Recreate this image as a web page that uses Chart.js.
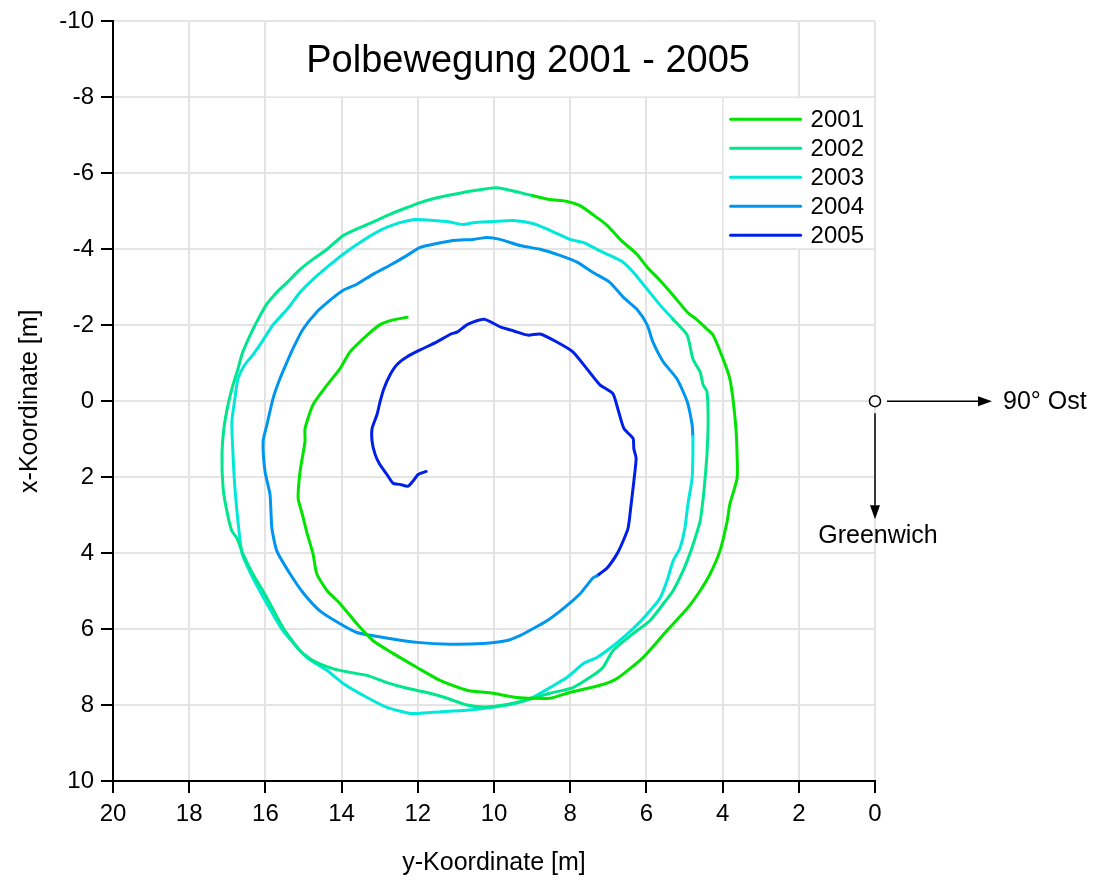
<!DOCTYPE html>
<html>
<head>
<meta charset="utf-8">
<script src="https://cdn.jsdelivr.net/npm/chart.js@4.4.0/dist/chart.umd.min.js"></script>
<style>
  html, body { margin: 0; padding: 0; background: #fff; }
  #wrap { width: 1094px; height: 880px; }
</style>
</head>
<body>
<div id="wrap"><canvas id="polChart"></canvas></div>
<script>
// Polbewegung, Punkte als [y-Koordinate, x-Koordinate] in Metern
const years = ['2001', '2002', '2003', '2004', '2005'];
const colors = ['#00e400', '#00e68c', '#00e8d8', '#0096f0', '#0020e8'];

const pol2001 = [[12.28,-2.21],[12.65,-2.14],[13.00,-2.01],[13.33,-1.74],[13.78,-1.30],[14.04,-0.86],[14.38,-0.43],[14.75,0.09],[14.96,0.72],[14.96,1.06],[15.09,1.85],[15.14,2.56],[15.03,2.98],[14.90,3.50],[14.75,4.02],[14.65,4.55],[14.38,4.99],[14.04,5.33],[13.60,5.86],[13.18,6.30],[12.65,6.64],[12.02,7.01],[11.42,7.35],[10.71,7.61],[10.03,7.69],[9.40,7.80],[8.53,7.82],[8.01,7.67],[7.22,7.48],[6.77,7.30],[6.09,6.75],[5.46,6.04],[4.93,5.46],[4.59,4.99],[4.33,4.55],[4.07,3.94],[3.88,3.16],[3.81,2.71],[3.62,2.03],[3.62,1.40],[3.65,0.72],[3.73,-0.07],[3.81,-0.59],[3.99,-1.12],[4.25,-1.74],[4.41,-1.90],[4.67,-2.14],[4.93,-2.35],[5.30,-2.79],[5.64,-3.18],[5.98,-3.53],[6.25,-3.87],[6.69,-4.26],[7.03,-4.63],[7.40,-4.91],[7.74,-5.15],[8.08,-5.26],[8.53,-5.31],[8.98,-5.41]];

const pol2002 = [[8.98,-5.41],[9.92,-5.62],[10.55,-5.54],[11.08,-5.44],[11.60,-5.33],[11.94,-5.23],[12.28,-5.10],[12.73,-4.92],[13.33,-4.65],[13.96,-4.36],[14.38,-4.00],[14.75,-3.74],[15.09,-3.47],[15.43,-3.13],[15.70,-2.87],[15.96,-2.56],[16.19,-2.16],[16.40,-1.74],[16.61,-1.25],[16.72,-0.85],[16.85,-0.43],[16.98,0.09],[17.09,0.72],[17.14,1.40],[17.11,2.29],[17.01,2.90],[16.88,3.42],[16.75,3.60],[16.59,4.02],[16.33,4.55],[15.96,5.18],[15.54,5.96],[15.09,6.57],[14.75,6.83],[14.23,7.04],[13.78,7.14],[13.33,7.22],[12.81,7.41],[12.28,7.56],[11.76,7.67],[11.23,7.82],[10.71,8.00],[10.29,8.05],[9.84,8.01],[9.40,7.93],[8.98,7.82],[8.53,7.69],[7.93,7.54],[7.48,7.27],[7.14,7.01],[6.88,6.57],[6.35,6.12],[5.91,5.78],[5.56,5.34],[5.30,4.99],[5.04,4.47],[4.86,4.02],[4.72,3.60],[4.59,3.16],[4.51,2.56],[4.46,2.03],[4.41,1.40],[4.38,0.54],[4.41,-0.25],[4.51,-0.43],[4.59,-0.77],[4.78,-1.11],[4.93,-1.74],[5.30,-2.16]];

const pol2003 = [[5.30,-2.16],[5.64,-2.53],[5.98,-2.95],[6.35,-3.40],[6.61,-3.66],[6.96,-3.84],[7.30,-4.00],[7.66,-4.18],[8.01,-4.26],[8.53,-4.50],[8.98,-4.68],[9.50,-4.76],[10.03,-4.73],[10.55,-4.70],[10.81,-4.65],[11.23,-4.73],[11.86,-4.78],[12.13,-4.78],[12.47,-4.70],[12.99,-4.50],[13.52,-4.18],[13.96,-3.87],[14.38,-3.53],[14.75,-3.21],[15.09,-2.87],[15.43,-2.42],[15.80,-2.01],[16.06,-1.61],[16.33,-1.22],[16.54,-0.96],[16.72,-0.59],[16.80,-0.07],[16.88,0.54],[16.85,1.40],[16.80,2.29],[16.72,3.16],[16.61,4.02],[16.33,4.65],[15.96,5.33],[15.54,6.04],[14.91,6.75],[14.38,7.09],[13.96,7.43],[13.33,7.80],[12.81,8.06],[12.20,8.22],[11.60,8.19],[10.71,8.14],[10.03,8.06],[9.40,7.95],[8.98,7.80],[8.53,7.54],[8.08,7.27],[7.66,6.91],[7.30,6.75],[6.77,6.36],[6.35,5.99],[5.98,5.60],[5.64,5.18],[5.46,4.73],[5.30,4.21],[5.12,3.87],[4.99,3.34],[4.91,2.71],[4.80,2.03],[4.78,1.40],[4.78,0.93]];

const pol2004 = [[4.78,0.93],[4.80,0.62],[4.93,0.01],[5.20,-0.59],[5.56,-1.04],[5.83,-1.56],[5.98,-2.01],[6.25,-2.42],[6.61,-2.74],[6.96,-3.13],[7.40,-3.39],[7.82,-3.66],[8.27,-3.84],[8.79,-4.00],[9.32,-4.10],[9.84,-4.26],[10.18,-4.31],[10.55,-4.26],[11.08,-4.23],[11.60,-4.13],[11.94,-4.05],[12.28,-3.84],[12.73,-3.58],[13.18,-3.34],[13.60,-3.08],[13.96,-2.92],[14.30,-2.66],[14.65,-2.35],[15.01,-1.90],[15.28,-1.38],[15.43,-1.04],[15.62,-0.59],[15.80,-0.07],[15.96,0.62],[16.06,1.06],[16.01,1.85],[15.88,2.45],[15.83,3.34],[15.70,3.94],[15.35,4.55],[14.99,5.07],[14.57,5.52],[14.04,5.86],[13.60,6.09],[12.91,6.22],[12.02,6.35],[11.15,6.40],[10.29,6.38],[9.66,6.30],[9.32,6.17],[8.98,5.99],[8.61,5.78],[8.16,5.44],[7.74,5.07],[7.40,4.65],[7.30,4.60]];

const pol2005 = [[7.30,4.60],[7.03,4.39],[6.77,4.02],[6.61,3.68],[6.48,3.34],[6.40,2.71],[6.33,2.11],[6.27,1.51],[6.33,1.25],[6.35,0.98],[6.59,0.72],[6.75,0.20],[6.88,-0.20],[7.22,-0.43],[7.56,-0.85],[7.93,-1.30],[8.35,-1.56],[8.79,-1.77],[9.11,-1.74],[9.48,-1.85],[9.82,-1.95],[10.26,-2.16],[10.68,-2.03],[10.97,-1.82],[11.13,-1.77],[11.50,-1.56],[11.94,-1.35],[12.28,-1.17],[12.55,-0.96],[12.73,-0.69],[12.89,-0.33],[12.99,0.01],[13.07,0.35],[13.20,0.72],[13.20,1.06],[13.12,1.40],[13.00,1.66],[12.81,1.93],[12.65,2.16],[12.47,2.19],[12.26,2.24],[12.13,2.11],[11.99,1.93],[11.78,1.85]];

const series = [pol2001, pol2002, pol2003, pol2004, pol2005];
const yTicks = [-10, -8, -6, -4, -2, 0, 2, 4, 6, 8, 10];
const xTicks = [0, 2, 4, 6, 8, 10, 12, 14, 16, 18, 20];

const FONT = "'Liberation Sans', Arial, sans-serif";

// Titel, Legende und Achsenkreuz werden im Plotbereich gezeichnet
const boxesPlugin = {
  id: 'boxes',
  beforeDatasetsDraw(chart) {
    const {ctx, scales: {x, y}} = chart;
    ctx.save();
    ctx.fillStyle = '#fff';
    // Titelbox
    const tl = x.getPixelForValue(16) + 1, tr = x.getPixelForValue(2) - 1;
    const tt = y.getPixelForValue(-10) + 1, tb = y.getPixelForValue(-8) - 1;
    ctx.fillRect(tl, tt, tr - tl, tb - tt);
    ctx.fillStyle = '#000';
    ctx.font = '38px ' + FONT;
    ctx.textAlign = 'center';
    ctx.textBaseline = 'middle';
    ctx.fillText('Polbewegung 2001 - 2005', (tl + tr) / 2 - 4, (tt + tb) / 2 + 2);
    // Legendenbox
    const ll = x.getPixelForValue(4) + 1, lr = x.getPixelForValue(0) - 1;
    const lt = y.getPixelForValue(-8) + 1, lb = y.getPixelForValue(-4) - 1;
    ctx.fillStyle = '#fff';
    ctx.fillRect(ll, lt, lr - ll, lb - lt);
    ctx.font = '24px ' + FONT;
    ctx.textAlign = 'left';
    years.forEach((yr, i) => {
      const yy = lt + 21 + i * 29;
      ctx.strokeStyle = colors[i];
      ctx.lineWidth = 3;
      ctx.lineCap = 'round';
      ctx.beginPath();
      ctx.moveTo(ll + 7, yy);
      ctx.lineTo(ll + 77, yy);
      ctx.stroke();
      ctx.fillStyle = '#000';
      ctx.fillText(yr, ll + 87, yy + 1);
    });
    ctx.restore();
  },
  afterDraw(chart) {
    const {ctx, scales: {x, y}} = chart;
    const cx = x.getPixelForValue(0), cy = y.getPixelForValue(0);
    ctx.save();
    ctx.strokeStyle = '#000';
    ctx.fillStyle = '#000';
    ctx.lineWidth = 1.5;
    // nach rechts: 90° Ost
    ctx.beginPath();
    ctx.moveTo(cx + 12, cy);
    ctx.lineTo(cx + 104, cy);
    ctx.stroke();
    ctx.beginPath();
    ctx.moveTo(cx + 117, cy);
    ctx.lineTo(cx + 103, cy - 5);
    ctx.lineTo(cx + 103, cy + 5);
    ctx.closePath();
    ctx.fill();
    // nach unten: Greenwich
    ctx.beginPath();
    ctx.moveTo(cx, cy + 12);
    ctx.lineTo(cx, cy + 104);
    ctx.stroke();
    ctx.beginPath();
    ctx.moveTo(cx, cy + 118);
    ctx.lineTo(cx - 5, cy + 104);
    ctx.lineTo(cx + 5, cy + 104);
    ctx.closePath();
    ctx.fill();
    // Kreis im Ursprung
    ctx.beginPath();
    ctx.arc(cx, cy, 5.5, 0, Math.PI * 2);
    ctx.fillStyle = '#fff';
    ctx.fill();
    ctx.stroke();
    ctx.fillStyle = '#000';
    ctx.font = '25px ' + FONT;
    ctx.textBaseline = 'middle';
    ctx.textAlign = 'left';
    ctx.fillText('90° Ost', cx + 128, cy + 1);
    ctx.textAlign = 'center';
    ctx.fillText('Greenwich', cx + 3, cy + 135);
    ctx.restore();
  }
};

const ctx = document.getElementById('polChart');

new Chart(ctx, {
  type: 'scatter',
  data: {
    datasets: series.map((pts, i) => ({
      label: years[i],
      data: pts.map(p => ({x: p[0], y: p[1]})),
      showLine: true,
      borderColor: colors[i],
      backgroundColor: colors[i],
      borderWidth: 3,
      pointRadius: 0,
      tension: 0.2,
      borderCapStyle: 'round',
      borderJoinStyle: 'round'
    }))
  },
  options: {
    responsive: true,
    maintainAspectRatio: false,
    animation: false,
    layout: { padding: { top: 18, right: 219, bottom: 0, left: 0 } },
    plugins: {
      legend: { display: false },
      title: { display: false },
      tooltip: { enabled: false }
    },
    scales: {
      x: {
        type: 'linear',
        reverse: true,
        min: 0,
        max: 20,
        afterBuildTicks: s => { s.ticks = xTicks.map(v => ({value: v})); },
        afterFit: s => { s.height = 99; },
        grid: { color: '#e4e4e4', lineWidth: 2, tickColor: '#000', tickLength: 12, tickWidth: 2 },
        border: { color: '#000', width: 2 },
        ticks: { color: '#000', font: { family: FONT, size: 24 }, padding: 7, maxRotation: 0 },
        title: { display: true, text: 'y-Koordinate [m]', color: '#000', font: { family: FONT, size: 25 }, padding: { top: 2, bottom: 2 } }
      },
      y: {
        type: 'linear',
        reverse: true,
        min: -10,
        max: 10,
        afterBuildTicks: s => { s.ticks = yTicks.map(v => ({value: v})); },
        afterFit: s => { s.width = 113; },
        grid: { color: '#e4e4e4', lineWidth: 2, tickColor: '#000', tickLength: 12, tickWidth: 2 },
        border: { color: '#000', width: 2 },
        ticks: { color: '#000', font: { family: FONT, size: 24 }, padding: 7 },
        title: { display: true, text: 'x-Koordinate [m]', color: '#000', font: { family: FONT, size: 25 }, padding: { top: 15, bottom: 0 } }
      }
    }
  },
  plugins: [boxesPlugin]
});
</script>
</body>
</html>
